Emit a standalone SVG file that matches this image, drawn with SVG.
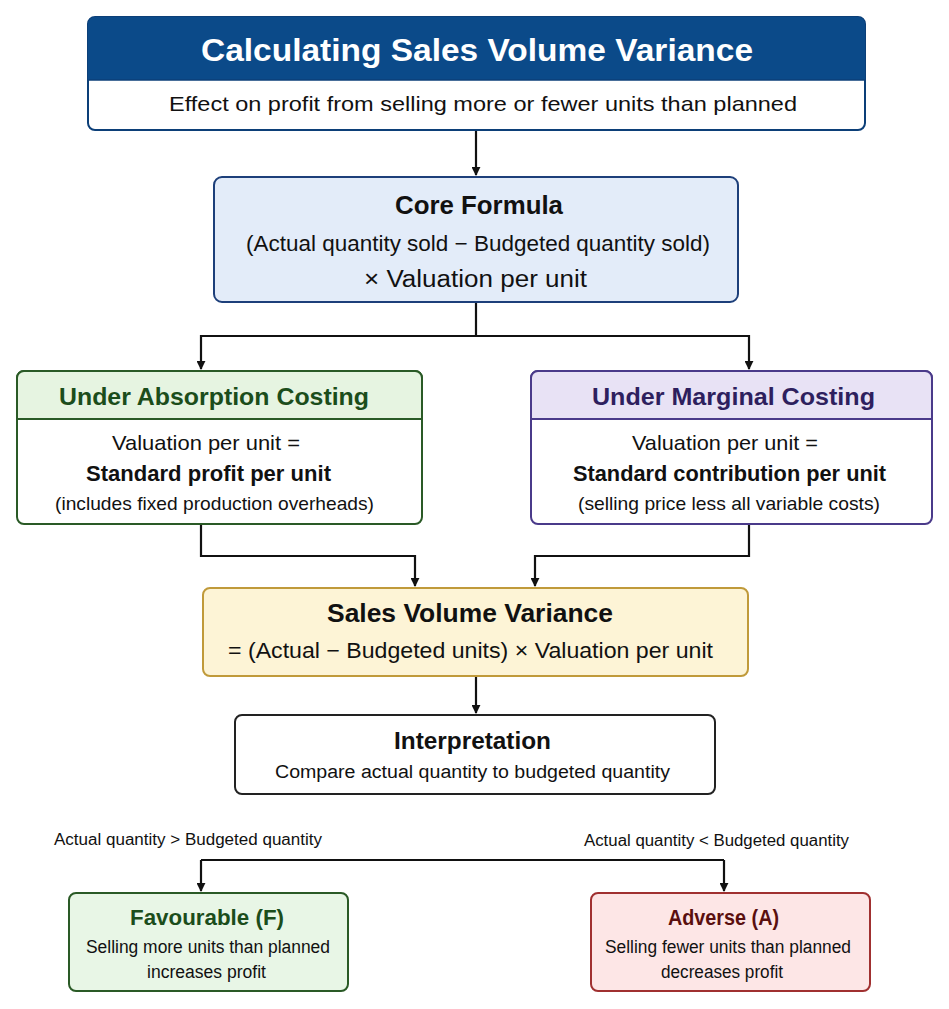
<svg xmlns="http://www.w3.org/2000/svg" width="949" height="1009" viewBox="0 0 949 1009">
<defs>
<marker id="ah" viewBox="0 0 10 10" refX="9" refY="5" markerWidth="9" markerHeight="9" markerUnits="userSpaceOnUse" orient="auto">
<path d="M0,0 L10,5 L0,10 z" fill="#111"/>
</marker>
<style>
text{font-family:"Liberation Sans",Arial,sans-serif;text-anchor:middle;fill:#111}
.b{font-weight:bold}
.conn path{fill:none;stroke:#111;stroke-width:2.2}
</style>
</defs>
<rect width="949" height="1009" fill="#fff"/>
<g class="conn">
<path d="M476,130 V175" marker-end="url(#ah)"/>
<path d="M476,302 V336 H201 V369" marker-end="url(#ah)"/>
<path d="M476,336 H749 V369" marker-end="url(#ah)"/>
<path d="M201,524 V556 H415 V586" marker-end="url(#ah)"/>
<path d="M749,524 V556 H535 V586" marker-end="url(#ah)"/>
<path d="M476,676 V713" marker-end="url(#ah)"/>
<path d="M201,860 H724"/>
<path d="M201,860 V891" marker-end="url(#ah)"/>
<path d="M724,860 V891" marker-end="url(#ah)"/>
</g>
<g id="title">
<rect x="88" y="17" width="777" height="113" rx="7" fill="#fff" stroke="#0c3f78" stroke-width="2"/>
<path d="M88,80 V24 a7,7 0 0 1 7,-7 H858 a7,7 0 0 1 7,7 V80 z" fill="#0b4a89"/>
<line x1="88" y1="80" x2="865" y2="80" stroke="#0c3f78" stroke-width="1.5"/>
<text x="477" y="61" class="b" font-size="32" textLength="552" lengthAdjust="spacingAndGlyphs" style="fill:#fff">Calculating Sales Volume Variance</text>
<text x="483" y="111" font-size="21" textLength="628" lengthAdjust="spacingAndGlyphs">Effect on profit from selling more or fewer units than planned</text>
</g>
<g id="core">
<rect x="214" y="177" width="524" height="125" rx="8" fill="#e3ecf9" stroke="#1d3f7a" stroke-width="2"/>
<text x="479" y="214" class="b" font-size="25" textLength="168" lengthAdjust="spacingAndGlyphs">Core Formula</text>
<text x="478" y="251" font-size="22" textLength="464" lengthAdjust="spacingAndGlyphs">(Actual quantity sold − Budgeted quantity sold)</text>
<text x="475.5" y="287" font-size="23" textLength="223" lengthAdjust="spacingAndGlyphs">× Valuation per unit</text>
</g>
<g id="absorption">
<rect x="17" y="371" width="405" height="153" rx="7" fill="#fff" stroke="#2a5a26" stroke-width="2"/>
<path d="M17,419 V378 a7,7 0 0 1 7,-7 H415 a7,7 0 0 1 7,7 V419 z" fill="#e6f4e1" stroke="#2a5a26" stroke-width="2"/>
<text x="214" y="405" class="b" font-size="24" textLength="310" lengthAdjust="spacingAndGlyphs" style="fill:#1b4d1b">Under Absorption Costing</text>
<text x="206" y="450" font-size="21" textLength="188" lengthAdjust="spacingAndGlyphs">Valuation per unit =</text>
<text x="208.5" y="481" class="b" font-size="22" textLength="245" lengthAdjust="spacingAndGlyphs">Standard profit per unit</text>
<text x="214.5" y="510" font-size="19" textLength="319" lengthAdjust="spacingAndGlyphs">(includes fixed production overheads)</text>
</g>
<g id="marginal">
<rect x="531" y="371" width="401" height="153" rx="7" fill="#fff" stroke="#4a3a8a" stroke-width="2"/>
<path d="M531,419 V378 a7,7 0 0 1 7,-7 H925 a7,7 0 0 1 7,7 V419 z" fill="#e8e2f5" stroke="#4a3a8a" stroke-width="2"/>
<text x="733.5" y="405" class="b" font-size="24" textLength="283" lengthAdjust="spacingAndGlyphs" style="fill:#2e1f5e">Under Marginal Costing</text>
<text x="725" y="450" font-size="21" textLength="186" lengthAdjust="spacingAndGlyphs">Valuation per unit =</text>
<text x="729.5" y="481" class="b" font-size="22" textLength="313" lengthAdjust="spacingAndGlyphs">Standard contribution per unit</text>
<text x="729" y="510" font-size="19" textLength="302" lengthAdjust="spacingAndGlyphs">(selling price less all variable costs)</text>
</g>
<g id="svv">
<rect x="203" y="588" width="545" height="88" rx="7" fill="#fdf4d6" stroke="#c09a3a" stroke-width="2"/>
<text x="470" y="622" class="b" font-size="25" textLength="286" lengthAdjust="spacingAndGlyphs">Sales Volume Variance</text>
<text x="470.5" y="658" font-size="22" textLength="485" lengthAdjust="spacingAndGlyphs">= (Actual − Budgeted units) × Valuation per unit</text>
</g>
<g id="interp">
<rect x="235" y="715" width="480" height="79" rx="7" fill="#fff" stroke="#222" stroke-width="2"/>
<text x="472.5" y="749" class="b" font-size="23" textLength="157" lengthAdjust="spacingAndGlyphs">Interpretation</text>
<text x="472.5" y="778" font-size="18" textLength="395" lengthAdjust="spacingAndGlyphs">Compare actual quantity to budgeted quantity</text>
</g>
<g id="labels">
<text x="188" y="845" font-size="16" textLength="268" lengthAdjust="spacingAndGlyphs">Actual quantity &gt; Budgeted quantity</text>
<text x="716.5" y="846" font-size="16" textLength="265" lengthAdjust="spacingAndGlyphs">Actual quantity &lt; Budgeted quantity</text>
</g>
<g id="fav">
<rect x="69" y="893" width="279" height="98" rx="7" fill="#e8f6e6" stroke="#2a5a26" stroke-width="2"/>
<text x="207" y="925" class="b" font-size="22" textLength="154" lengthAdjust="spacingAndGlyphs" style="fill:#1b4d1b">Favourable (F)</text>
<text x="208" y="953" font-size="18" textLength="244" lengthAdjust="spacingAndGlyphs">Selling more units than planned</text>
<text x="206.5" y="978" font-size="18" textLength="119" lengthAdjust="spacingAndGlyphs">increases profit</text>
</g>
<g id="adv">
<rect x="591" y="893" width="279" height="98" rx="7" fill="#fde6e6" stroke="#a03030" stroke-width="2"/>
<text x="723.5" y="925" class="b" font-size="22" textLength="111" lengthAdjust="spacingAndGlyphs" style="fill:#5a0f0f">Adverse (A)</text>
<text x="728" y="953" font-size="18" textLength="246" lengthAdjust="spacingAndGlyphs">Selling fewer units than planned</text>
<text x="722" y="978" font-size="18" textLength="122" lengthAdjust="spacingAndGlyphs">decreases profit</text>
</g>
</svg>
